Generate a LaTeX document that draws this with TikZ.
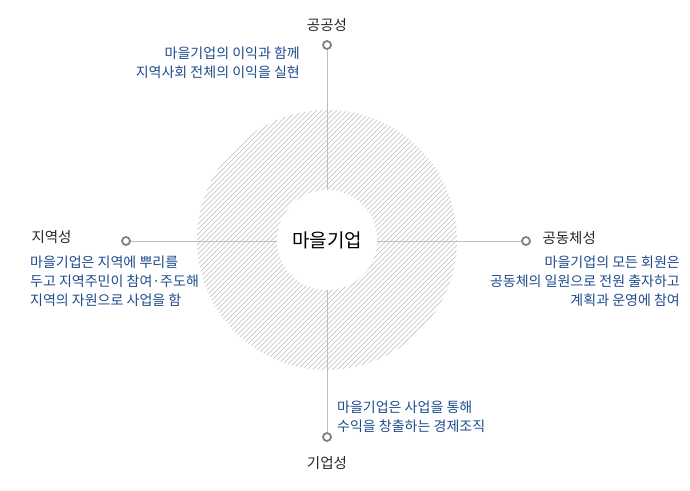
\documentclass[tikz,border=0pt]{standalone}
\usepackage{fontspec}
\setmainfont{Noto Sans CJK KR}
\begin{document}
\begin{tikzpicture}[x=1pt,y=-1pt,
  title/.style={font=\fontsize{14.5}{16}\selectfont, text=black!85},
  desc/.style={font=\fontsize{14}{19}\selectfont, text={rgb,255:red,30;green,75;blue,140}, inner sep=0pt},
  dotm/.style={circle, draw=black!50, line width=1.8pt, minimum size=8pt, inner sep=0pt, fill=white}]
\useasboundingbox (0,0) rectangle (690,490);
\coordinate (c) at (327,240);
\begin{scope}
  \clip (c) circle (130);
  \foreach \i in {-300,-295,...,300} {
    \draw[black!22, line width=0.7pt] (327+\i-140,380) -- (327+\i+140,100);
  }
\end{scope}
\node[dotm] (top) at (327,45) {};
\node[dotm] (left) at (126,241) {};
\node[dotm] (right) at (526,241) {};
\node[dotm] (bot) at (327,437) {};
\draw[black!25, line width=0.7pt] (top) -- (bot);
\draw[black!25, line width=0.7pt] (left) -- (right);
\fill[white] (c) circle (50);
\node[font=\fontsize{19}{21}\selectfont] (center) at (c) {마을기업};
\node[title] (t1) at (327,25) {공공성};
\node[title, anchor=west] (t2) at (28,237) {지역성};
\node[title, anchor=west] (t3) at (539,238) {공동체성};
\node[title] (t4) at (327,463) {기업성};
\node[desc, anchor=north east, align=right] (d1) at (300,47) {마을기업의 이익과 함께\\지역사회 전체의 이익을 실현};
\node[desc, anchor=north west, align=left] (d2) at (30,256) {마을기업은 지역에 뿌리를\\두고 지역주민이 참여·주도해\\지역의 자원으로 사업을 함};
\node[desc, anchor=north east, align=right] (d3) at (680,256) {마을기업의 모든 회원은\\공동체의 일원으로 전원 출자하고\\계획과 운영에 참여};
\node[desc, anchor=north west, align=left] (d4) at (337,401) {마을기업은 사업을 통해\\수익을 창출하는 경제조직};
\end{tikzpicture}
\end{document}
